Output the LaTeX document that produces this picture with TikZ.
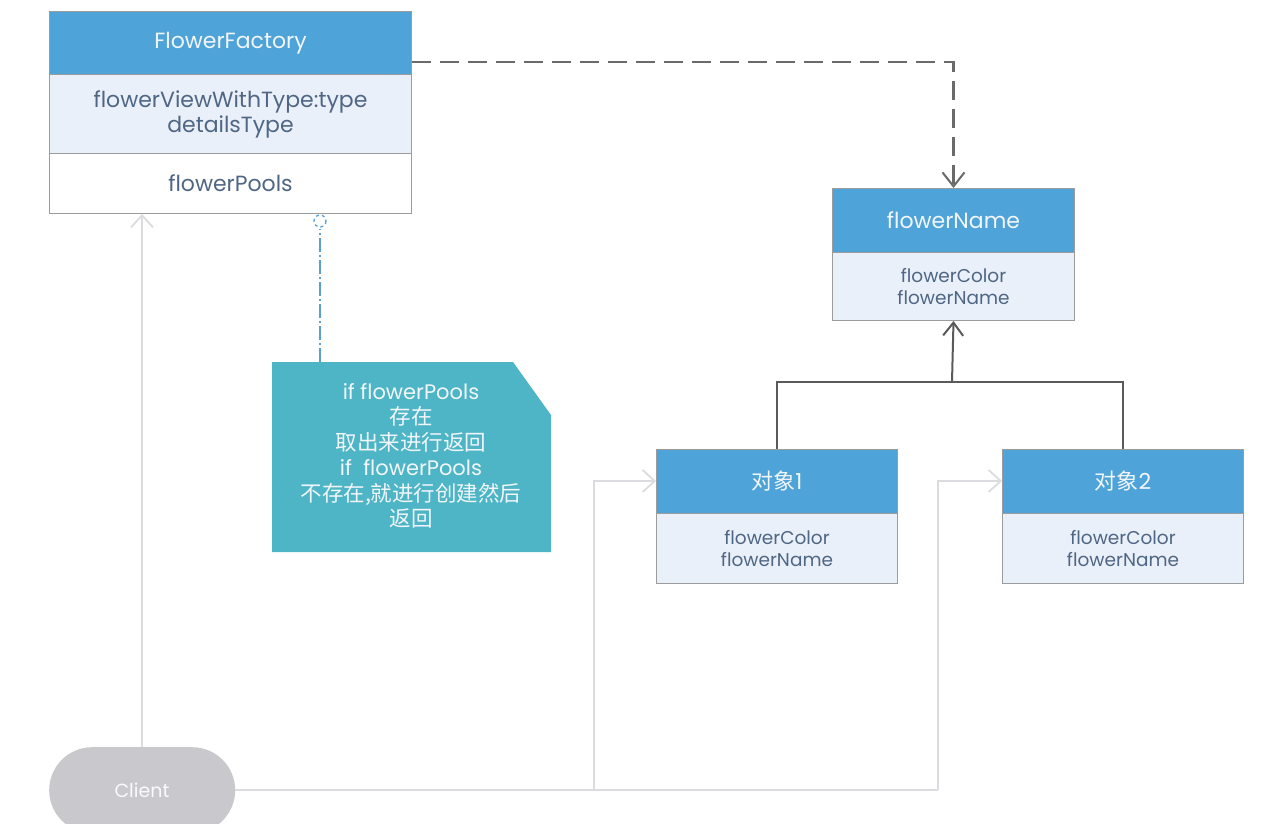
\documentclass[tikz,border=0pt]{standalone}
\usepackage{fontspec}
\setmainfont{Poppins}
\newfontfamily\cjk{Noto Sans CJK SC}
\usetikzlibrary{arrows.meta}
\definecolor{hblue}{HTML}{4EA3D8}
\definecolor{lbody}{HTML}{EAF0F9}
\definecolor{bord}{HTML}{9C9C9C}
\definecolor{btxt}{HTML}{4F6684}
\definecolor{htxt}{HTML}{F2F6FA}
\definecolor{teal}{HTML}{4DB5C5}
\definecolor{cgray}{HTML}{C9C9CD}
\definecolor{cline}{HTML}{DCDCE0}
\definecolor{dgray}{HTML}{6A6A6A}
\definecolor{notelink}{HTML}{5C9FD6}
\tikzset{
  hdr/.style={fill=hblue, draw=bord, line width=1pt, anchor=north west, inner sep=0pt, text=htxt, align=center, font=\fontsize{22}{26}\selectfont},
  bodyA/.style={fill=lbody, draw=bord, line width=1pt, anchor=north west, inner sep=0pt, text=btxt, align=center},
  bodyW/.style={fill=white, draw=bord, line width=1pt, anchor=north west, inner sep=0pt, text=btxt, align=center},
  cl/.style={draw=cline, line width=1.8pt},
  clarr/.style={cl, -{Straight Barb[length=12pt,width=22pt,line width=1.8pt]}},
  dep/.style={draw=dgray, line width=2.5pt, dash pattern=on 19pt off 9pt, -{Straight Barb[length=14pt,width=22pt,line width=2pt]}},
  inh/.style={draw=dgray!85!black, line width=2pt},
}
\newcommand{\cj}[1]{{\cjk\fontsize{21.5}{25.5}\selectfont #1}}
\begin{document}
\begin{tikzpicture}[x=1pt,y=-1pt]
\useasboundingbox (0,0) rectangle (1272,838);
\fill[white] (0,0) rectangle (1272,838);

% FlowerFactory
\node[hdr, minimum width=362pt, minimum height=63pt] (ffh) at (49,11) {FlowerFactory};
\node[bodyA, minimum width=362pt, minimum height=79pt, font=\fontsize{22}{25}\selectfont] (ffb) at (49,74) {flowerViewWithType:type\\detailsType};
\node[bodyW, minimum width=362pt, minimum height=60pt, font=\fontsize{22}{26}\selectfont] (ffp) at (49,153) {flowerPools};

% flowerName
\node[hdr, minimum width=242pt, minimum height=64pt] (fnh) at (832,188) {flowerName};
\node[bodyA, minimum width=242pt, minimum height=68pt, font=\fontsize{18.5}{22}\selectfont] (fnb) at (832,252) {flowerColor\\flowerName};

% obj1
\node[hdr, minimum width=241pt, minimum height=64pt] (o1h) at (656,449) {{\cjk 对象}1};
\node[bodyA, minimum width=241pt, minimum height=70pt, font=\fontsize{18.5}{22}\selectfont] (o1b) at (656,513) {flowerColor\\flowerName};

% obj2
\node[hdr, minimum width=241pt, minimum height=64pt] (o2h) at (1002,449) {{\cjk 对象}2};
\node[bodyA, minimum width=241pt, minimum height=70pt, font=\fontsize{18.5}{22}\selectfont] (o2b) at (1002,513) {flowerColor\\flowerName};

% note
\fill[teal] (272,362) -- (513,362) -- (551,415) -- (551,552) -- (272,552) -- cycle;
\node[text=htxt, align=center, inner sep=0pt, font=\fontsize{21}{25.5}\selectfont] (note) at (411,456)
  {if flowerPools\\\cj{存在}\\\cj{取出来进行返回}\\if\ \ flowerPools\\\cj{不存在,就进行创建然后}\\\cj{返回}};
\coordinate (notetop) at (320,362);
\coordinate (sock) at (320,221);

% client
\begin{scope}
\clip (0,700) rectangle (300,823);
\node[fill=cgray, rounded corners=43pt, minimum width=186pt, minimum height=86pt, inner sep=0pt, anchor=north west] (client) at (49,747) {};
\end{scope}
\node[text=white!96!gray, font=\fontsize{19}{22}\selectfont] (clientlbl) at (142,790) {Client};

% connectors
\draw[dep] (ffh.east |- 0,62) -| (fnh.north);
\draw[inh] (o1h.north) |- (952,382) -| (o2h.north);
\draw[inh, -{Straight Barb[length=13pt,width=20pt,line width=2pt]}] (952,382) -- (fnb.south);

\draw[clarr] (client.north -| 142,0) -- (ffp.south -| 142,0);
\draw[cl] (client.east |- 0,790) -- (938,790);
\draw[clarr] (594,790) |- (o1h.west |- 0,481);
\draw[clarr] (938,790) |- (o2h.west |- 0,481);

\draw[notelink, line width=1.5pt, dash pattern=on 14pt off 3pt on 2pt off 3pt] (notetop) -- (320,229);
\draw[notelink, line width=1.3pt, dash pattern=on 3pt off 3pt] (sock) circle (6);
\end{tikzpicture}
\end{document}
